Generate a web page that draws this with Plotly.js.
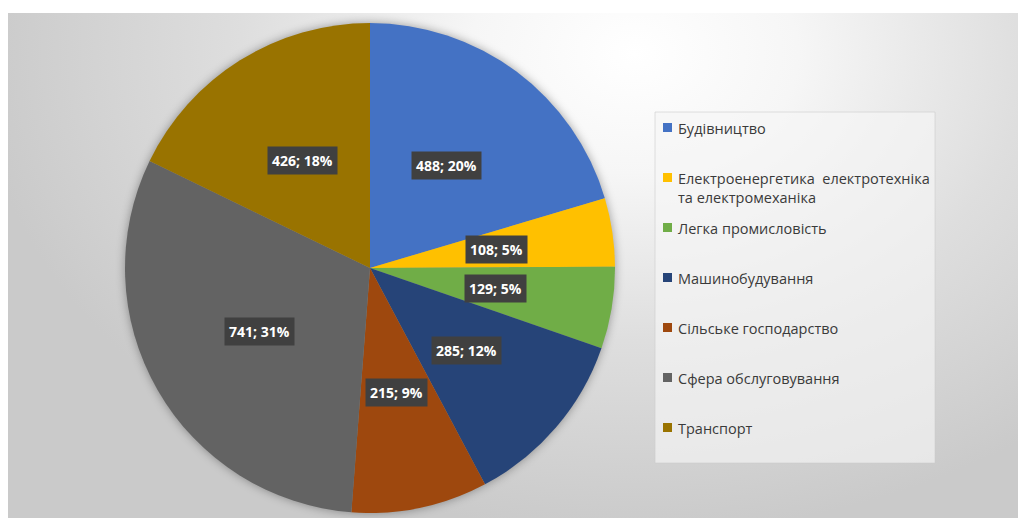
<!DOCTYPE html>
<html>
<head>
<meta charset="utf-8">
<script src="https://cdn.plot.ly/plotly-3.0.1.min.js"></script>
<style>
  html, body { margin: 0; padding: 0; background: #ffffff; }
  #wrap { position: relative; width: 1021px; height: 518px; background: #ffffff; }
  #bg { position: absolute; left: 8px; top: 13px; width: 1010px; height: 505px;
        background: radial-gradient(ellipse 65% 95% at 62% 8%, #ffffff 0%, #f6f6f6 25%, #dedede 60%, #cacaca 100%); }
  #chart { position: absolute; left: 0; top: 0; width: 1021px; height: 518px; }
  .pielayer { filter: drop-shadow(0px 0px 5px rgba(0,0,0,0.35)); }
</style>
</head>
<body>
<div id="wrap">
  <div id="bg"></div>
  <div id="chart"></div>
</div>
<script>
// ---- data ----
var categories = [
  "Будівництво",
  "Електроенергетика  електротехніка та електромеханіка",
  "Легка промисловість",
  "Машинобудування",
  "Сільське господарство",
  "Сфера обслуговування",
  "Транспорт"
];
var values = [488, 108, 129, 285, 215, 741, 426];
var colors = ["#4472C4", "#FFC000", "#70AD47", "#264478", "#9E480E", "#636363", "#997300"];

// ---- layout geometry ----
var W = 1021, H = 518;
var CX = 370, CY = 268, R = 245;
var domX = [(CX - R) / W, (CX + R) / W];
var domY = [(H - CY - R) / H, (H - CY + R) / H];

var total = values.reduce(function (a, b) { return a + b; }, 0);

var trace = {
  type: "pie",
  labels: categories,
  values: values,
  sort: false,
  direction: "clockwise",
  rotation: 0,
  marker: { colors: colors, line: { width: 0 } },
  textinfo: "none",
  hovertemplate: "%{label}: %{value} (%{percent})<extra></extra>",
  domain: { x: domX, y: domY },
  showlegend: false
};

var annotations = [];
var shapes = [];

// data labels: placed at slice mid-angle
var cum = 0;
var labelR = 0.52 * R;
for (var i = 0; i < values.length; i++) {
  var mid = (cum + values[i] / 2) / total;
  cum += values[i];
  var th = mid * 2 * Math.PI;
  var px = CX + labelR * Math.sin(th);
  var py = CY - labelR * Math.cos(th);
  var pct = Math.round(values[i] / total * 100);
  annotations.push({
    xref: "paper", yref: "paper",
    x: px / W, y: 1 - py / H,
    xanchor: "center", yanchor: "middle",
    text: "<b>" + values[i] + "; " + pct + "%</b>",
    showarrow: false,
    font: { family: "Open Sans, sans-serif", size: 14, color: "#ffffff" },
    bgcolor: "#404040",
    borderpad: 4
  });
}

// custom legend
var LX0 = 655, LX1 = 935, LY0 = 112, LY1 = 463;
shapes.push({
  type: "rect", xref: "paper", yref: "paper",
  x0: LX0 / W, x1: LX1 / W, y0: 1 - LY1 / H, y1: 1 - LY0 / H,
  fillcolor: "rgba(246,246,246,0.65)", line: { color: "rgba(205,205,205,0.6)", width: 1 }, layer: "below"
});
var firstY = 127.5, step = 50;
for (var j = 0; j < categories.length; j++) {
  var yc = firstY + j * step;
  shapes.push({
    type: "rect", xref: "paper", yref: "paper",
    x0: 663 / W, x1: 672 / W, y0: 1 - (yc + 4.5) / H, y1: 1 - (yc - 4.5) / H,
    fillcolor: colors[j], line: { width: 0 }
  });
  var txt = categories[j].replace("електротехніка ", "електротехніка<br>");
  annotations.push({
    xref: "paper", yref: "paper",
    x: 676 / W, y: 1 - (yc - 10.5) / H,
    xanchor: "left", yanchor: "top", align: "left",
    text: txt, showarrow: false,
    font: { family: "Open Sans, sans-serif", size: 14.5, color: "#3a3a3a" }
  });
}

var layout = {
  width: W, height: H,
  margin: { l: 0, r: 0, t: 0, b: 0 },
  paper_bgcolor: "rgba(0,0,0,0)",
  plot_bgcolor: "rgba(0,0,0,0)",
  showlegend: false,
  annotations: annotations,
  shapes: shapes
};

Plotly.newPlot("chart", [trace], layout, { displayModeBar: false, staticPlot: true });
</script>
</body>
</html>
